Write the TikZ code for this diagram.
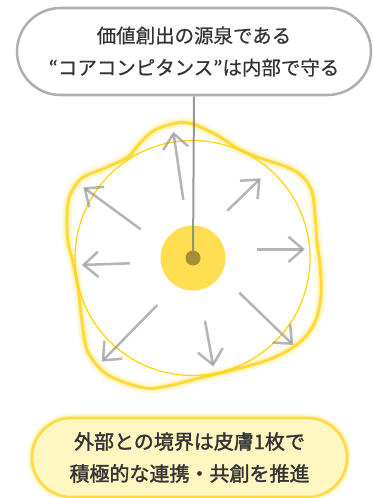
\documentclass[tikz,border=0pt]{standalone}
\usepackage{fontspec}
\newfontfamily\jp[FakeBold=0.5]{Noto Sans CJK JP}
\newfontfamily\jpb[FakeBold=1.6]{Noto Sans CJK JP}
\usetikzlibrary{arrows.meta,shapes.misc}
\definecolor{glowy}{HTML}{FFE45C}
\definecolor{blobline}{HTML}{FFD83A}
\definecolor{thincirc}{HTML}{FFD500}
\definecolor{corey}{HTML}{FFDF4F}
\definecolor{dotc}{HTML}{A48E36}
\definecolor{linec}{HTML}{7F7F7F}
\definecolor{arrowc}{HTML}{8E8E8E}
\definecolor{topborder}{HTML}{AFAFAF}
\definecolor{txt}{HTML}{333333}
\definecolor{botfill}{HTML}{FFF7C2}
\definecolor{botborder}{HTML}{FFD94A}
\tikzset{
  topbox/.style={rounded rectangle, draw=topborder, line width=1.9pt, fill=white,
    minimum width=265.5pt, minimum height=65.25pt, inner sep=0pt, align=center,
    text=txt, font=\jp\fontsize{14.6}{24}\selectfont},
  botbox/.style={rounded rectangle, draw=botborder, line width=1.9pt, fill=botfill,
    minimum width=236.25pt, minimum height=59.25pt, inner sep=0pt, align=center,
    text=txt, font=\jpb\fontsize{15}{24}\selectfont,
    preaction={draw=glowy, line width=7pt, draw opacity=0.12},
    preaction={draw=glowy, line width=5pt, draw opacity=0.2},
    preaction={draw=glowy, line width=3.5pt, draw opacity=0.35}},
  outarrow/.style={draw=arrowc, draw opacity=0.65, line width=1.9pt,
    -{Straight Barb[length=11pt,width=19pt]}},
  conn/.style={draw=linec, draw opacity=0.8, line width=1.5pt},
  blobglow/.style={draw=glowy, line width=#1, draw opacity=0.15},
}
\begin{document}
\begin{tikzpicture}[x=0.75pt,y=-0.75pt]
\useasboundingbox (0,0) rectangle (372,498);
% wavy boundary (skin)
\def\blobpts{(185,122.5) (213,133) (237,148) (257,157) (287,167) (303,177) (312,192) (315,215) (317,242) (320,265) (321,295) (315,322) (300,342) (273,358) (233,370) (195,379) (172,385) (145,388) (108,375) (88,352) (82,322) (78,288) (73,262) (68,242) (67,215) (70,195) (82,178) (105,168) (128,157) (140,143) (157,129)}
\foreach \w in {8pt,6pt,4.5pt}{
  \draw[blobglow=\w] plot[smooth cycle, tension=0.55] coordinates {\blobpts};
}
\draw[draw=blobline, line width=2.2pt] plot[smooth cycle, tension=0.55] coordinates {\blobpts};
% thin circle
\draw[draw=thincirc, line width=0.9pt] (192.5,258) circle[radius=117.5];
% arrows
\coordinate (a1s) at (183.3,200);   \coordinate (a1e) at (173.3,131.7);
\coordinate (a2s) at (140.7,229.3); \coordinate (a2e) at (83.3,187.3);
\coordinate (a3s) at (130,263.3);   \coordinate (a3e) at (81.7,265);
\coordinate (a4s) at (157.3,305);   \coordinate (a4e) at (101.7,361.7);
\coordinate (a5s) at (205,320.7);   \coordinate (a5e) at (213.3,366.7);
\coordinate (a6s) at (239.3,292.7); \coordinate (a6e) at (293.3,345);
\coordinate (a7s) at (256.7,249.3); \coordinate (a7e) at (305,249.3);
\coordinate (a8s) at (227.3,210.7); \coordinate (a8e) at (260.7,178.3);
\foreach \i in {1,...,8}{\draw[outarrow] (a\i s) -- (a\i e);}
% core
\node[circle, fill=corey, minimum size=48.75pt, inner sep=0pt] (core) at (193,258) {};
% top box
\node[topbox] (top) at (194,51.5) {価値創出の源泉である\\“コアコンピタンス”は内部で守る};
\draw[conn] (top.south) -- (core.center);
\node[circle, fill=dotc, minimum size=11.25pt, inner sep=0pt] (dot) at (core.center) {};
% bottom box
\node[botbox] (bot) at (189.5,457.5) {外部との境界は皮膚1枚で\\積極的な連携・共創を推進};
\end{tikzpicture}
\end{document}
